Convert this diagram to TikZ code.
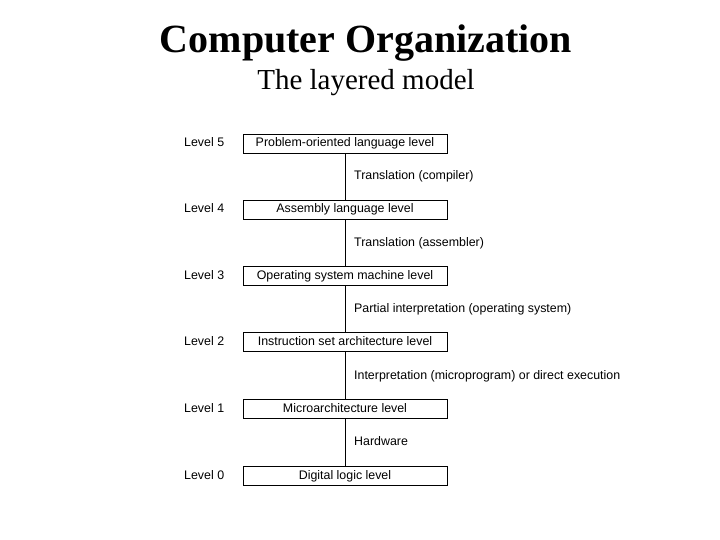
\documentclass[tikz,border=0pt]{standalone}
\usepackage{fontspec}
\setmainfont{Liberation Serif}
\newfontfamily\lsans{Liberation Sans}
\begin{document}
\begin{tikzpicture}[x=1pt,y=-1pt,
  lvbox/.style={draw,line width=0.8pt,minimum width=204pt,minimum height=19pt,inner sep=0pt,text height=8.5pt,text depth=2.5pt,font=\lsans\fontsize{12.4}{13}\selectfont},
  lvlab/.style={anchor=west,inner sep=0pt,text height=8.5pt,text depth=2.5pt,font=\lsans\fontsize{12.4}{13}\selectfont},
  link/.style={line width=0.8pt}]
\useasboundingbox (0,0) rectangle (720,540);
\node[font=\bfseries\fontsize{40}{44}\selectfont] (t1) at (366,43) {Computer Organization};
\node[font=\fontsize{29}{32}\selectfont] (t2) at (366,83) {The layered model};
\node[lvbox] (b5) at (345,144) {Problem-oriented language level};
\node[lvbox] (b4) at (345,210) {Assembly language level};
\node[lvbox] (b3) at (345,276) {Operating system machine level};
\node[lvbox] (b2) at (345,342) {Instruction set architecture level};
\node[lvbox] (b1) at (345,409) {Microarchitecture level};
\node[lvbox] (b0) at (345,476) {Digital logic level};
\node[lvlab] (l5) at (184,144) {Level 5};
\node[lvlab] (l4) at (184,210) {Level 4};
\node[lvlab] (l3) at (184,276) {Level 3};
\node[lvlab] (l2) at (184,342) {Level 2};
\node[lvlab] (l1) at (184,409) {Level 1};
\node[lvlab] (l0) at (184,476) {Level 0};
\draw[link] (b5.south) -- (b4.north);
\draw[link] (b4.south) -- (b3.north);
\draw[link] (b3.south) -- (b2.north);
\draw[link] (b2.south) -- (b1.north);
\draw[link] (b1.south) -- (b0.north);
\node[lvlab] (m5) at (354,177) {Translation (compiler)};
\node[lvlab] (m4) at (354,243) {Translation (assembler)};
\node[lvlab] (m3) at (354,309) {Partial interpretation (operating system)};
\node[lvlab] (m2) at (354,376) {Interpretation (microprogram) or direct execution};
\node[lvlab] (m1) at (354,442) {Hardware};
\end{tikzpicture}
\end{document}
